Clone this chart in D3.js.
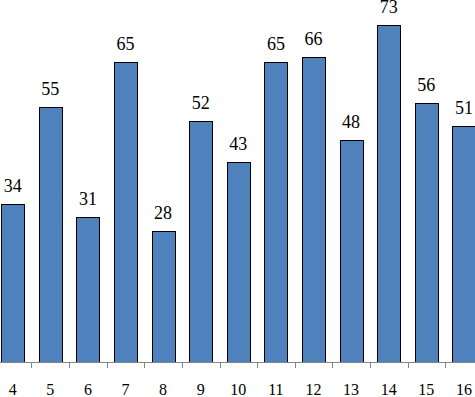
<!DOCTYPE html>
<html>
<head>
<meta charset="utf-8">
<script src="https://cdn.jsdelivr.net/npm/d3@7"></script>
</head>
<body style="margin:0;background:#fff;font-family:'Liberation Serif',serif">
<svg id="chart" width="475" height="397" font-family="Liberation Serif, serif" style="display:block;font-family:'Liberation Serif',serif"></svg>
<script>
const categories = ["4","5","6","7","8","9","10","11","12","13","14","15","16"];
const values = [34, 55, 31, 65, 28, 52, 43, 65, 66, 48, 73, 56, 51];

const W = 475, H = 397;
const svg = d3.select("#chart");

const x = d3.scaleBand()
  .domain(categories)
  .range([-6.1, 482.7])
  .paddingInner(0.39)
  .paddingOuter(0.195);

const baseY = 362;
const y = d3.scaleLinear().domain([-0.55, 73]).range([baseY, 25]);

const gap = x.step() * x.paddingInner();

// bars
svg.append("g").selectAll("rect")
  .data(values)
  .join("rect")
  .attr("x", (d, i) => Math.round(x(categories[i])) + 0.5)
  .attr("y", d => Math.round(y(d)) + 0.5)
  .attr("width", Math.round(x.bandwidth()))
  .attr("height", d => baseY - Math.round(y(d)))
  .attr("fill", "#4F81BD")
  .attr("stroke", "#000")
  .attr("stroke-width", 1);

// axis line
svg.append("line")
  .attr("x1", 0).attr("x2", W)
  .attr("y1", baseY + 0.5).attr("y2", baseY + 0.5)
  .attr("stroke", "#868686").attr("stroke-width", 1);

// ticks between categories
svg.append("g").selectAll("line")
  .data(categories.slice(1))
  .join("line")
  .attr("x1", d => Math.round(x(d) - gap / 2) + 0.5)
  .attr("x2", d => Math.round(x(d) - gap / 2) + 0.5)
  .attr("y1", baseY)
  .attr("y2", baseY + 6)
  .attr("stroke", "#868686").attr("stroke-width", 1);

// category labels
svg.append("g").selectAll("text")
  .data(categories)
  .join("text")
  .attr("x", d => x(d) + x.bandwidth() / 2)
  .attr("y", 395)
  .attr("text-anchor", "middle")
  .attr("font-family", "Liberation Serif")
  .style("font-family", "'Liberation Serif'")
  .style("font-size", "16px")
  .attr("fill", "#000")
  .text(d => d);

// value labels
svg.append("g").selectAll("text")
  .data(values)
  .join("text")
  .attr("x", (d, i) => x(categories[i]) + x.bandwidth() / 2)
  .attr("y", d => Math.max(y(d) - 12, 12.5))
  .attr("text-anchor", "middle")
  .attr("font-family", "Liberation Serif")
  .style("font-family", "'Liberation Serif'")
  .style("font-size", "18px")
  .attr("fill", "#000")
  .text(d => d);
</script>
</body>
</html>
